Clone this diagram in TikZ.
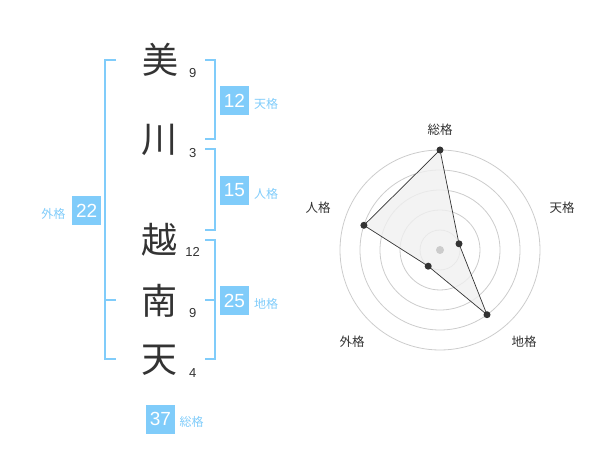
\documentclass[tikz,border=0pt]{standalone}
\usepackage{fontspec}
\setmainfont{Liberation Sans}
\newfontfamily\jpfont{Noto Sans CJK JP}
\begin{document}
\begin{tikzpicture}[x=1pt,y=-1pt,
  kanji/.style={font=\jpfont\fontsize{36}{36}\selectfont, text=txt, inner sep=0pt},
  strokes/.style={font=\fontsize{13}{13}\selectfont, text=txt, inner sep=0pt},
  numbox/.style={fill=boxblue, text=white, minimum width=29pt, minimum height=29pt, inner sep=0pt, font=\fontsize{19}{19}\selectfont},
  kaku/.style={font=\jpfont\fontsize{12}{12}\selectfont, text=boxblue, inner sep=0pt},
  bracket/.style={draw=boxblue, line width=2pt},
  ring/.style={draw=ringgray, line width=0.8pt},
  axlabel/.style={font=\jpfont\fontsize{12.5}{12.5}\selectfont, text=txt, inner sep=0pt},
  dot/.style={circle, fill=txt, minimum size=7pt, inner sep=0pt}
]
\definecolor{boxblue}{HTML}{80CCFA}
\definecolor{txt}{HTML}{333333}
\definecolor{ringgray}{HTML}{CCCCCC}
\definecolor{polyfill}{HTML}{F0F0F0}
\useasboundingbox (0,0) rectangle (600,470);
% characters
\node[kanji] (k1) at (160,60) {美};
\node[kanji] (k2) at (159.5,140) {川};
\node[kanji] (k3) at (159.5,240) {越};
\node[kanji] (k4) at (159.5,301) {南};
\node[kanji] (k5) at (159.5,360) {天};
\node[strokes] (s1) at (192.7,72.7) {9};
\node[strokes] (s2) at (192.7,153.3) {3};
\node[strokes] (s3) at (192.7,252.3) {12};
\node[strokes] (s4) at (192.7,313.3) {9};
\node[strokes] (s5) at (192.7,373.3) {4};
% brackets
\draw[bracket] (116,60) -- (104.5,60) -- (104.5,359.5) -- (116,359.5);
\draw[bracket] (104.5,300) -- (116,300);
\draw[bracket] (205,60) -- (214.5,60) -- (214.5,139.5) -- (205,139.5);
\draw[bracket] (205,149.5) -- (214.5,149.5) -- (214.5,230) -- (205,230);
\draw[bracket] (205,240) -- (214.5,240) -- (214.5,359.5) -- (205,359.5);
\draw[bracket] (214.5,300) -- (205,300);
% boxes
\node[numbox] (b12) at (234.5,100.5) {12};
\node[kaku] (l12) at (266,104) {天格};
\node[numbox] (b15) at (234.5,190.5) {15};
\node[kaku] (l15) at (266,194) {人格};
\node[numbox] (b22) at (86.7,210.5) {22};
\node[kaku] (l22) at (53.3,214) {外格};
\node[numbox] (b25) at (234.5,300.5) {25};
\node[kaku] (l25) at (266,304) {地格};
\node[numbox] (b37) at (160.5,419) {37};
\node[kaku] (l37) at (191.7,422.3) {総格};
% radar
\coordinate (c) at (440,250);
\foreach \r in {20,40,60,80,100} \draw[ring] (c) circle (\r);
\coordinate (p1) at (440,150);
\coordinate (p2) at (459.0,243.8);
\coordinate (p3) at (487.0,314.7);
\coordinate (p4) at (428.2,266.2);
\coordinate (p5) at (363.9,225.3);
\draw[fill=polyfill, fill opacity=0.8, draw=txt, line width=0.7pt] (p1) -- (p2) -- (p3) -- (p4) -- (p5) -- cycle;
\fill[ringgray] (c) circle (4);
\foreach \p in {p1,p2,p3,p4,p5} \node[dot] at (\p) {};
\node[axlabel] (a1) at (440,130) {総格};
\node[axlabel] (a2) at (562,208) {天格};
\node[axlabel] (a3) at (524,342) {地格};
\node[axlabel] (a4) at (352,342) {外格};
\node[axlabel] (a5) at (318,208) {人格};
\end{tikzpicture}
\end{document}
